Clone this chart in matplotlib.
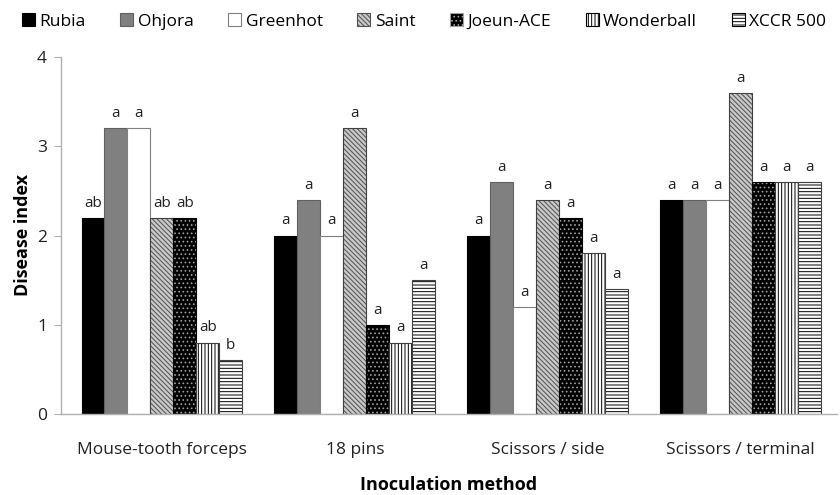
import numpy as np
import matplotlib
matplotlib.use("Agg")
import matplotlib.pyplot as plt
from matplotlib.patches import Patch

plt.rcParams['font.family'] = ['Open Sans', 'DejaVu Sans']
plt.rcParams['hatch.linewidth'] = 0.7

methods = ["Mouse-tooth forceps", "18 pins", "Scissors / side", "Scissors / terminal"]
cultivars = ["Rubia", "Ohjora", "Greenhot", "Saint", "Joeun-ACE", "Wonderball", "XCCR 500"]

rubia = [2.2, 2.0, 2.0, 2.4]
ohjora = [3.2, 2.4, 2.6, 2.4]
greenhot = [3.2, 2.0, 1.2, 2.4]
saint = [2.2, 3.2, 2.4, 3.6]
joeun = [2.2, 1.0, 2.2, 2.6]
wonderball = [0.8, 0.8, 1.8, 2.6]
xccr = [0.6, 1.5, 1.4, 2.6]

letters = [
    ["ab", "a", "a", "ab", "ab", "ab", "b"],
    ["a", "a", "a", "a", "a", "a", "a"],
    ["a", "a", "a", "a", "a", "a", "a"],
    ["a", "a", "a", "a", "a", "a", "a"],
]

series = [rubia, ohjora, greenhot, saint, joeun, wonderball, xccr]

# face, hatch colour, hatch, outline
styles = [
    ("black", "black", "", "black"),
    ("#808080", "#808080", "", "#606060"),
    ("white", "white", "", "#808080"),
    ("#c8c8c8", "#505050", "\\\\\\\\\\\\\\", "#404040"),
    ("black", "#a0a0a0", "....", "black"),
    ("white", "black", "|||||", "#404040"),
    ("white", "black", "-----", "#404040"),
]

fig = plt.figure(figsize=(8.4, 4.95), dpi=100)
ax = fig.add_axes([61 / 840, 81 / 495, 776 / 840, 357 / 495])

x = np.arange(len(methods))
width = 0.119
for i, vals in enumerate(series):
    face, hcol, hatch, edge = styles[i]
    pos = x + (i - 3) * width
    ax.bar(pos, vals, width, color=face, edgecolor=hcol, hatch=hatch, linewidth=0)
    ax.bar(pos, vals, width, fill=False, edgecolor=edge, linewidth=0.8)
    for j, v in enumerate(vals):
        ax.text(pos[j], v + 0.08, letters[j][i], ha="center", va="bottom",
                fontsize=11, color="#222222")

ax.set_xlim(-0.523, 3.5)
ax.set_ylim(0, 4)
ax.set_yticks([0, 1, 2, 3, 4])
ax.set_xticks(x)
ax.set_xticklabels(methods, fontsize=12.5)
ax.tick_params(axis="x", length=0, pad=20, colors="#222222")
ax.tick_params(axis="y", length=5, color="#b0b0b0", labelsize=12.5, labelcolor="#222222", pad=5)
for s in ["top", "right"]:
    ax.spines[s].set_visible(False)
for s in ["left", "bottom"]:
    ax.spines[s].set_color("#b0b0b0")
    ax.spines[s].set_linewidth(1)

ax.set_ylabel("Disease index", fontsize=13, fontweight="bold", labelpad=4)
ax.set_xlabel("Inoculation method", fontsize=13, fontweight="bold", labelpad=13)

handles = []
for i, name in enumerate(cultivars):
    face, hcol, hatch, edge = styles[i]
    handles.append(Patch(facecolor=face, edgecolor=hcol if hatch else edge,
                         hatch=hatch, linewidth=0.8, label=name))
fig.legend(handles=handles, loc="upper center", bbox_to_anchor=(0.505, 1.005), ncol=7,
           frameon=False, fontsize=12.5, handlelength=0.75, handleheight=0.75,
           handletextpad=0.25, columnspacing=2.0)

fig.savefig("out.png", dpi=100)
